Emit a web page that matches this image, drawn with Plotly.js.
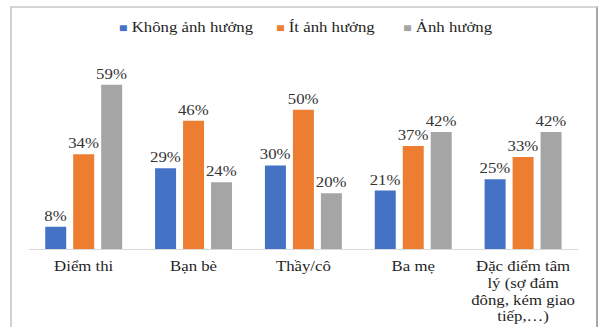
<!DOCTYPE html>
<html>
<head>
<meta charset="utf-8">
<script src="https://cdn.plot.ly/plotly-3.0.1.min.js"></script>
<style>
  html, body { margin: 0; padding: 0; background: #fff; overflow: hidden; }
  #wrap { position: absolute; left: 0; top: 0; width: 602px; height: 327px; overflow: hidden; }
  #chart { position: absolute; left: 0; top: 0; width: 502px; height: 327px;
           transform: scaleX(1.1992); transform-origin: 0 0; }
  #frame { position: absolute; left: 10px; top: 6px; width: 584px; height: 330px;
           border-left: 2px solid #d0d0d0; border-top: 2px solid #d6d6d6; border-right: 2px solid #a8a8a8;
           pointer-events: none; }
</style>
</head>
<body>
<div id="wrap">
  <div id="chart"></div>
  <div id="frame"></div>
</div>
<script>
const categories = ["Điểm thi", "Bạn bè", "Thầy/cô", "Ba mẹ", "Đặc điểm tâm<br>lý (sợ đám<br>đông, kém giao<br>tiếp,…)"];
const seriesNames = ["Không ảnh hưởng", "Ít ảnh hưởng", "Ảnh hưởng"];
const khongAnhHuong = [8, 29, 30, 21, 25];
const itAnhHuong = [34, 46, 50, 37, 33];
const anhHuong = [59, 24, 20, 42, 42];
const colors = ["#4472C4", "#ED7D31", "#A5A5A5"];
const legendX = [0.160, 0.446, 0.676];

const seriesValues = [khongAnhHuong, itAnhHuong, anhHuong];
const font = "'Liberation Serif', 'Times New Roman', serif";

const traces = seriesValues.map((vals, i) => ({
  type: "bar",
  name: seriesNames[i],
  x: categories,
  y: vals,
  marker: { color: colors[i] },
  text: vals.map(v => v + "%"),
  textposition: "outside",
  textfont: { family: font, size: 14, color: "#333333" },
  constraintext: "none",
  cliponaxis: false,
  hoverinfo: "none",
  showlegend: false
}));

const legendAnnotations = seriesNames.map((name, i) => ({
  xref: "paper", yref: "paper",
  x: legendX[i], y: 1.138,
  xanchor: "left", yanchor: "middle",
  showarrow: false,
  text: '<span style="color:' + colors[i] + ';font-size:12px">■</span> ' + name,
  font: { family: font, size: 14, color: "#1f1f1f" }
}));

const layout = {
  width: 502,
  height: 327,
  margin: { l: 24, r: 20, t: 54, b: 78, pad: 0 },
  paper_bgcolor: "rgba(0,0,0,0)",
  plot_bgcolor: "rgba(0,0,0,0)",
  barmode: "group",
  bargap: 0.236,
  bargroupgap: 0.25,
  font: { family: font, size: 14, color: "#1f1f1f" },
  showlegend: false,
  annotations: legendAnnotations,
  xaxis: {
    type: "category",
    showline: true,
    linecolor: "#d9d9d9",
    linewidth: 1,
    ticks: "outside",
    ticklen: 6,
    tickcolor: "rgba(0,0,0,0)",
    showgrid: false,
    zeroline: false,
    tickfont: { family: font, size: 12.8, color: "#1f1f1f" },
    ticktext: categories.map(c => '<span style="font-size:14px">' + c.split("<br>").join('</span><br><span style="font-size:14px">') + '</span>'),
    tickvals: categories,
    fixedrange: true
  },
  yaxis: {
    range: [0, 70],
    visible: false,
    showgrid: false,
    zeroline: false,
    fixedrange: true
  }
};

Plotly.newPlot("chart", traces, layout, { displayModeBar: false, staticPlot: true });
</script>
</body>
</html>
